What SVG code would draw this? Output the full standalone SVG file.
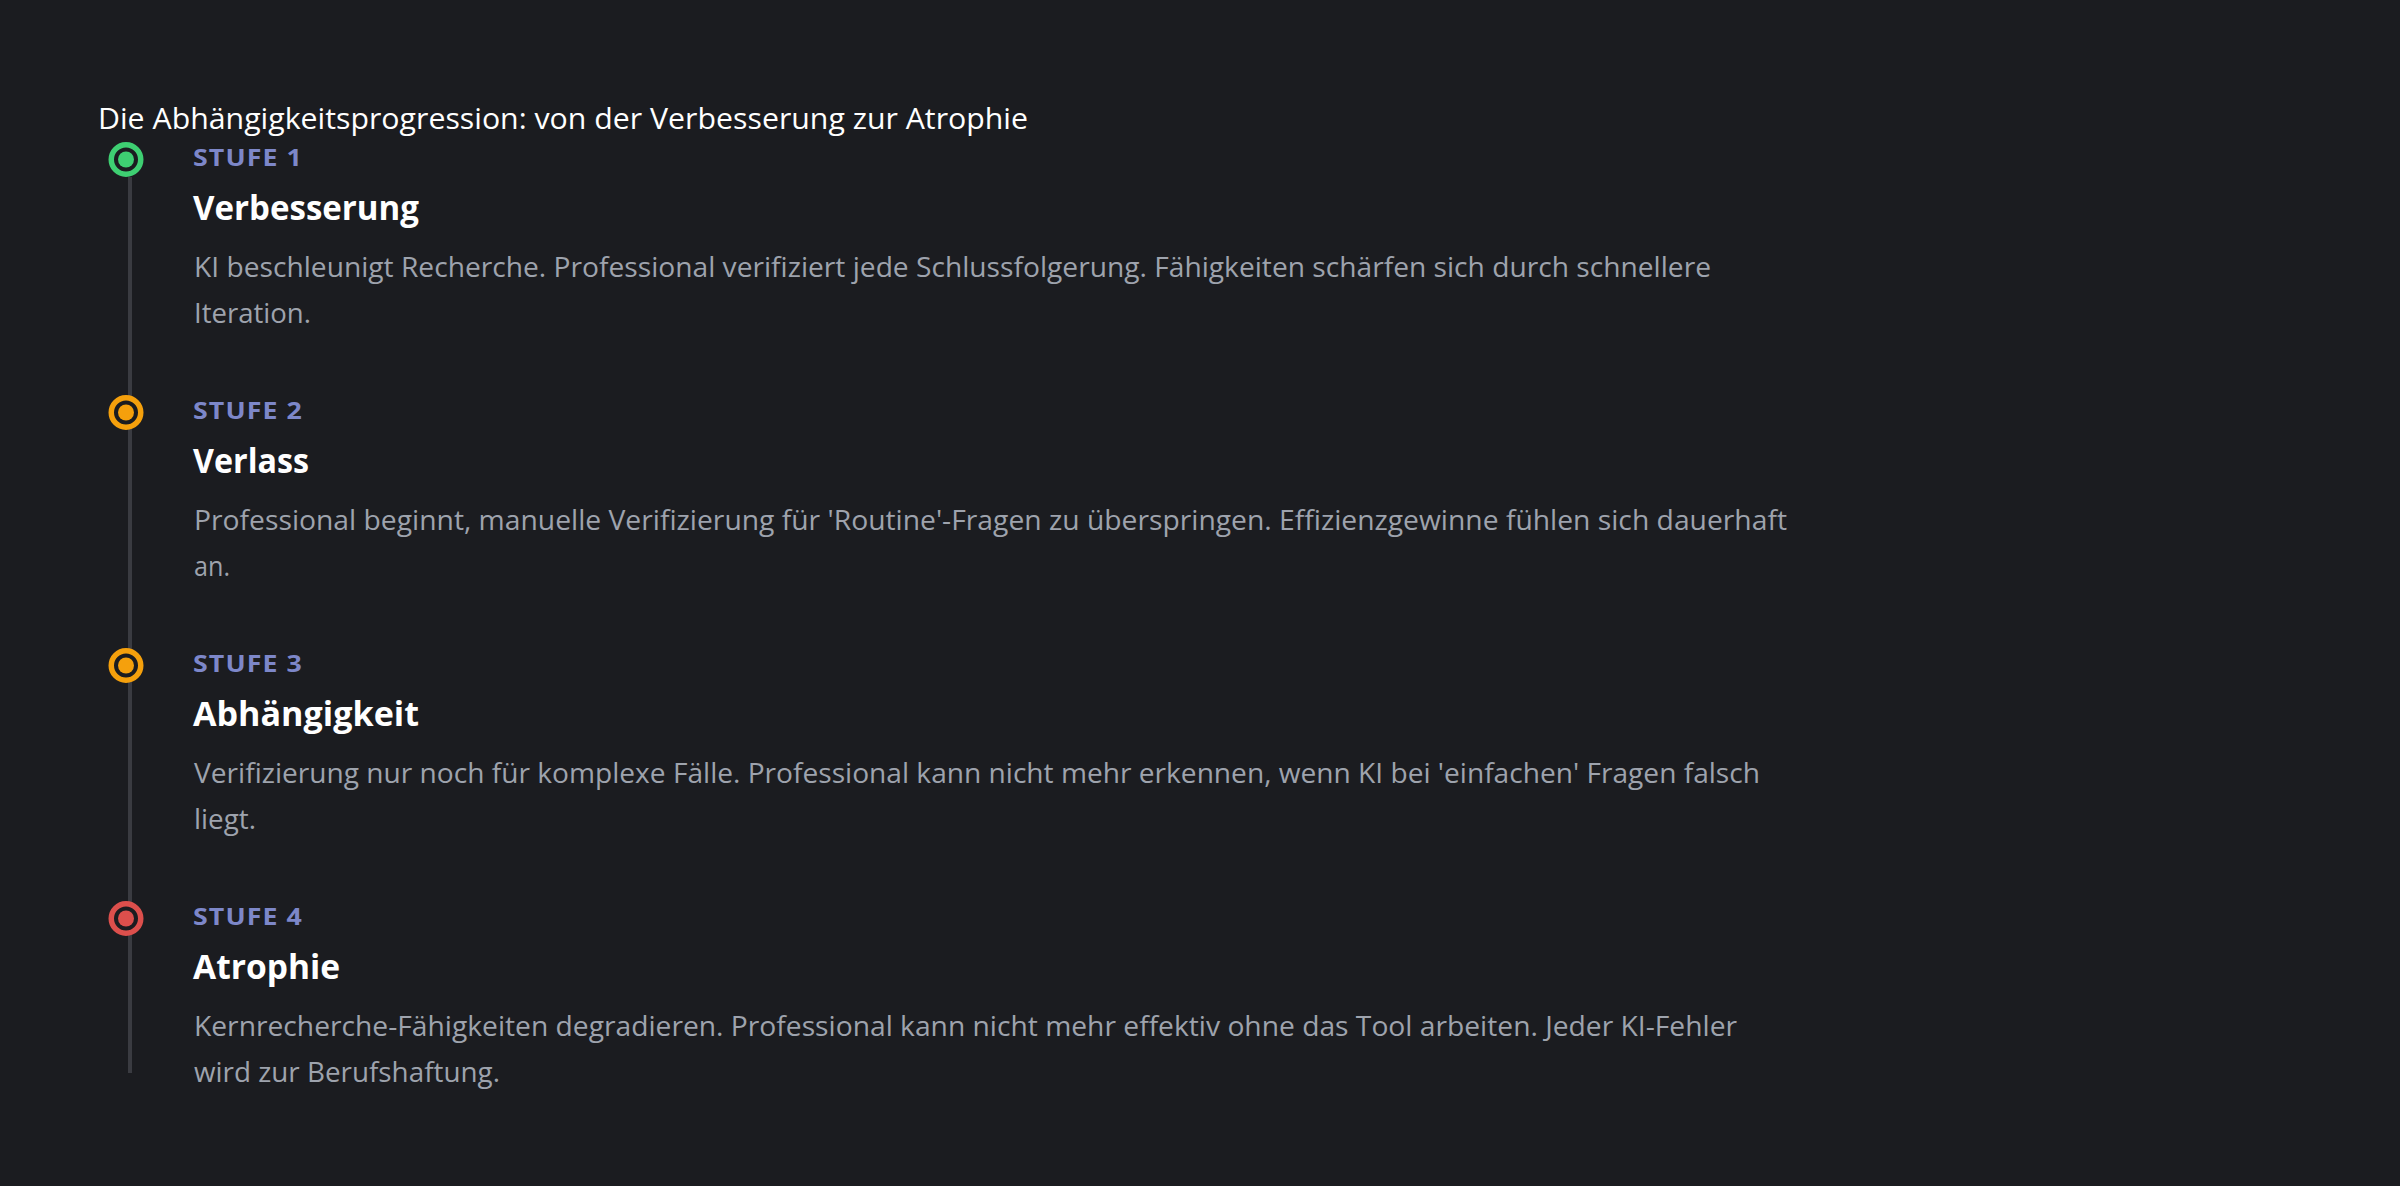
<svg xmlns="http://www.w3.org/2000/svg" width="2400" height="1186" viewBox="0 0 2400 1186">
<style>
.title{font-family:"Open Sans","Noto Sans","Liberation Sans",sans-serif;font-size:28.5px;fill:#ffffff}
.stufe{font-family:"Open Sans","Noto Sans","Liberation Sans",sans-serif;font-size:24px;font-weight:700;fill:#7d87c9;letter-spacing:1px}
.head{font-family:"Open Sans","Noto Sans","Liberation Sans",sans-serif;font-size:33.5px;font-weight:700;fill:#ffffff}
.desc{font-family:"Open Sans","Noto Sans","Liberation Sans",sans-serif;font-size:27.5px;fill:#9ea3ad}
.ring{fill:#1b1c20;stroke-width:5.5}
</style>
<rect width="2400" height="1186" fill="#1b1c20"/>
<text class="title" x="98" y="129" textLength="930" lengthAdjust="spacingAndGlyphs">Die Abhängigkeitsprogression: von der Verbesserung zur Atrophie</text>
<g id="connectors">
<rect x="128" y="177" width="4" height="896" fill="#3a3b41"/>
</g>
<g id="stufe1">
<circle class="ring" cx="126" cy="159.5" r="14.75" stroke="#3ecf72"/>
<circle cx="126" cy="159.5" r="8" fill="#3ecf72"/>
<text class="stufe" x="193" y="166" textLength="110" lengthAdjust="spacingAndGlyphs">STUFE 1</text>
<text class="head" x="193" y="220" textLength="226" lengthAdjust="spacingAndGlyphs">Verbesserung</text>
<text class="desc" x="194" y="277" textLength="1517" lengthAdjust="spacingAndGlyphs">KI beschleunigt Recherche. Professional verifiziert jede Schlussfolgerung. Fähigkeiten schärfen sich durch schnellere</text>
<text class="desc" x="194" y="323" textLength="117" lengthAdjust="spacingAndGlyphs">Iteration.</text>
</g>
<g id="stufe2">
<circle class="ring" cx="126" cy="412.5" r="14.75" stroke="#f5a00c"/>
<circle cx="126" cy="412.5" r="8" fill="#f5a00c"/>
<text class="stufe" x="193" y="419" textLength="110" lengthAdjust="spacingAndGlyphs">STUFE 2</text>
<text class="head" x="193" y="473" textLength="116" lengthAdjust="spacingAndGlyphs">Verlass</text>
<text class="desc" x="194" y="530" textLength="1593" lengthAdjust="spacingAndGlyphs">Professional beginnt, manuelle Verifizierung für 'Routine'-Fragen zu überspringen. Effizienzgewinne fühlen sich dauerhaft</text>
<text class="desc" x="194" y="576" textLength="36" lengthAdjust="spacingAndGlyphs">an.</text>
</g>
<g id="stufe3">
<circle class="ring" cx="126" cy="665.5" r="14.75" stroke="#f5a00c"/>
<circle cx="126" cy="665.5" r="8" fill="#f5a00c"/>
<text class="stufe" x="193" y="672" textLength="110" lengthAdjust="spacingAndGlyphs">STUFE 3</text>
<text class="head" x="193" y="726" textLength="226" lengthAdjust="spacingAndGlyphs">Abhängigkeit</text>
<text class="desc" x="194" y="783" textLength="1566" lengthAdjust="spacingAndGlyphs">Verifizierung nur noch für komplexe Fälle. Professional kann nicht mehr erkennen, wenn KI bei 'einfachen' Fragen falsch</text>
<text class="desc" x="194" y="829" textLength="62" lengthAdjust="spacingAndGlyphs">liegt.</text>
</g>
<g id="stufe4">
<circle class="ring" cx="126" cy="918.5" r="14.75" stroke="#dc4f4c"/>
<circle cx="126" cy="918.5" r="8" fill="#dc4f4c"/>
<text class="stufe" x="193" y="925" textLength="110" lengthAdjust="spacingAndGlyphs">STUFE 4</text>
<text class="head" x="193" y="979" textLength="147" lengthAdjust="spacingAndGlyphs">Atrophie</text>
<text class="desc" x="194" y="1036" textLength="1543" lengthAdjust="spacingAndGlyphs">Kernrecherche-Fähigkeiten degradieren. Professional kann nicht mehr effektiv ohne das Tool arbeiten. Jeder KI-Fehler</text>
<text class="desc" x="194" y="1082" textLength="306" lengthAdjust="spacingAndGlyphs">wird zur Berufshaftung.</text>
</g>
</svg>
